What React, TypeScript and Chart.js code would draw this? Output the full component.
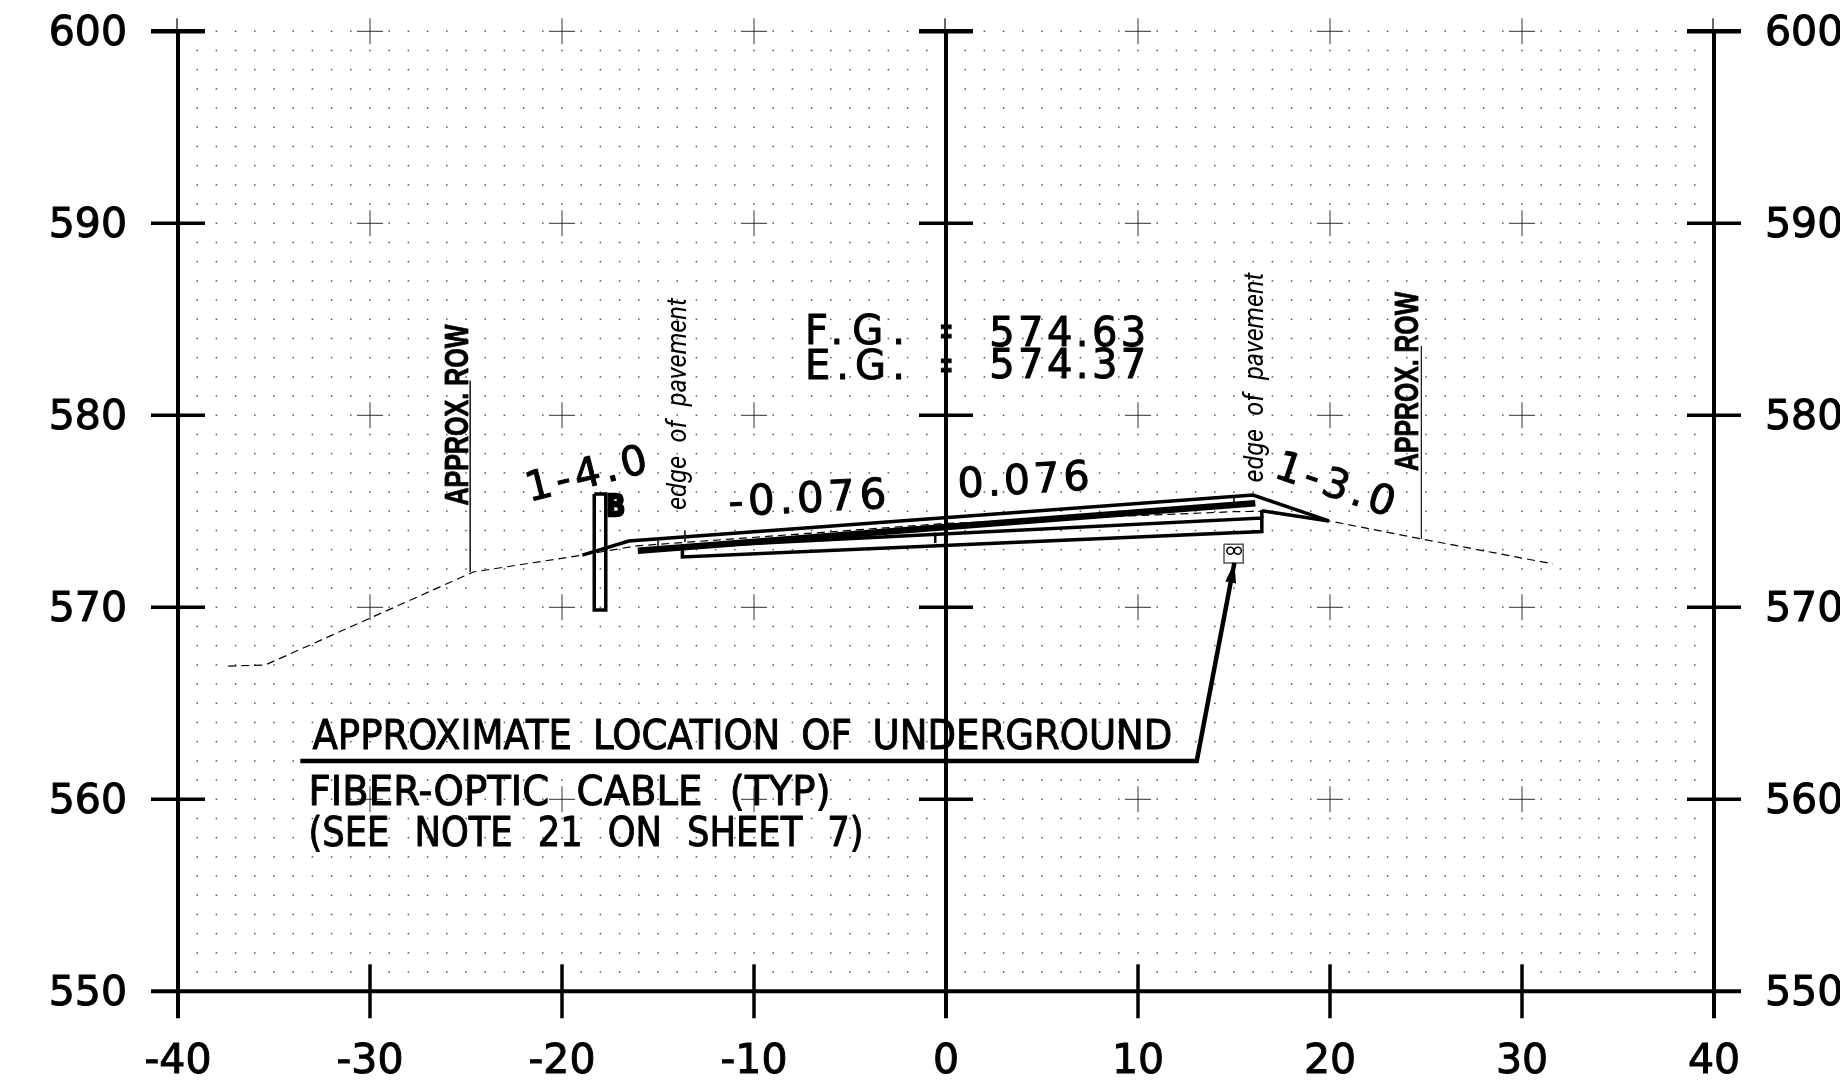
import React, { useEffect, useRef } from "react";
import { Chart, registerables } from "chart.js";

Chart.register(...registerables);

// Axis ticks
const xTicks = [-40, -30, -20, -10, 0, 10, 20, 30, 40];
const yTicks = [550, 560, 570, 580, 590, 600];

// Existing ground (dashed)
const groundX = [-37.38, -35.47, -24.62, -18.94, -16.1, 0, 15.0, 16.3, 19.94, 24.76, 31.61];
const groundY = [566.94, 566.99, 571.84, 572.72, 573.2, 574.37, 574.98, 575.0, 574.5, 573.56, 572.26];
// Finished grade top line
const gradeX = [-18.94, -16.52, 15.99, 19.94];
const gradeY = [572.72, 573.45, 575.85, 574.5];
// Heavy pavement layer
const layerX = [-16.05, 16.11];
const layerY = [572.95, 575.42];
// Lower shoulder line
const shoulderX = [16.45, 19.94];
const shoulderY = [575.03, 574.5];
// Base box
const baseX = [-13.73, -13.73, 16.45, 16.45, -13.73];
const baseY = [573.14, 572.62, 573.95, 574.65, 573.14];
const baseTopX = [16.45, 16.45];
const baseTopY = [574.65, 575.07];
// Small stubs
const stubAX = [-0.56, -0.56];
const stubAY = [573.9, 573.35];
const stubBX = [15.0, 15.0];
const stubBY = [575.8, 575.4];
const stubCX = [-13.6, -13.6];
const stubCY = [574.0, 573.4];
const stubDX = [-15.0, -15.0];
const stubDY = [573.5, 573.2];
// Sign post
const postX = [-18.32, -17.72, -17.72, -18.32, -18.32];
const postY = [575.9, 575.9, 569.86, 569.86, 575.9];
// Right-of-way leaders
const rowLeftX = [-24.78, -24.78];
const rowLeftY = [581.8, 571.84];
const rowRightX = [24.76, 24.76];
const rowRightY = [583.6, 573.56];
// Callout leader
const leaderX = [-33.63, 13.06, 15.02];
const leaderY = [562.0, 562.0, 572.31];
// Utility box
const boxX = [14.48, 15.48, 15.48, 14.48, 14.48];
const boxY = [573.28, 573.28, 572.31, 572.31, 573.28];
const cableX = [14.81, 15.2];
const cableY = [572.95, 572.95];

type Note = {
  text: string; x: number; y: number; w: number; rot: number; font: string; stroke: number; word?: number;
};
const DJ = '"DejaVu Sans"';
const notes: Note[] = [
  { text: "F.G.", x: -7.35, y: 583.71, w: 100, rot: 0, font: `40px ${DJ}`, stroke: 1 },
  { text: "=", x: -0.35, y: 583.6, w: 14, rot: 0, font: `46px ${DJ}`, stroke: 0.8 },
  { text: "574.63", x: 2.25, y: 583.6, w: 157, rot: 0, font: `40px ${DJ}`, stroke: 1 },
  { text: "E.G.", x: -7.35, y: 581.89, w: 100, rot: 0, font: `40px ${DJ}`, stroke: 1 },
  { text: "=", x: -0.35, y: 581.84, w: 14, rot: 0, font: `46px ${DJ}`, stroke: 0.8 },
  { text: "574.37", x: 2.25, y: 581.93, w: 157, rot: 0, font: `40px ${DJ}`, stroke: 1 },
  { text: "-0.076", x: -11.3, y: 574.75, w: 158, rot: -3, font: `42px ${DJ}`, stroke: 1 },
  { text: "0.076", x: 0.65, y: 575.72, w: 132, rot: -3.5, font: `41px ${DJ}`, stroke: 1 },
  { text: "1-4.0", x: -21.7, y: 575.5, w: 124, rot: -14, font: `41px ${DJ}`, stroke: 1 },
  { text: "1-3.0", x: 17.0, y: 576.8, w: 124, rot: 19, font: `41px ${DJ}`, stroke: 1 },
  { text: "APPROX. ROW", x: -24.9, y: 575.3, w: 181, rot: -90, font: `bold 33px "Liberation Sans"`, stroke: 0.8 },
  { text: "APPROX. ROW", x: 24.6, y: 577.1, w: 179, rot: -90, font: `bold 33px "Liberation Sans"`, stroke: 0.8 },
  { text: "edge of pavement", x: -13.55, y: 575.07, w: 212, rot: -90, font: `italic 28px Roboto`, stroke: 0, word: 8 },
  { text: "edge of pavement", x: 16.5, y: 576.5, w: 210, rot: -90, font: `italic 28px Roboto`, stroke: 0, word: 8 },
  { text: "APPROXIMATE LOCATION OF UNDERGROUND", x: -33.0, y: 562.62, w: 860, rot: 0, font: `41px ${DJ}`, stroke: 1, word: 10 },
  { text: "FIBER-OPTIC CABLE (TYP)", x: -33.2, y: 559.7, w: 522, rot: 0, font: `41px ${DJ}`, stroke: 1, word: 16 },
  { text: "(SEE NOTE 21 ON SHEET 7)", x: -33.2, y: 557.55, w: 555, rot: 0, font: `41px ${DJ}`, stroke: 1, word: 16 },
  { text: "B", x: -17.7, y: 574.73, w: 19, rot: 0, font: `bold 30px ${DJ}`, stroke: 2.5 },
];

const line = (xs: number[], ys: number[], width: number, extra: object = {}) => ({
  data: xs.map((x, i) => ({ x, y: ys[i] })),
  showLine: true,
  borderColor: "#000",
  borderWidth: width,
  pointRadius: 0,
  tension: 0,
  clip: false,
  borderJoinStyle: "miter",
  ...extra,
});

const sheet = {
  id: "sheet",
  beforeDatasetsDraw(chart: any) {
    const { ctx, scales } = chart;
    const sx = (v: number) => scales.x.getPixelForValue(v);
    const sy = (v: number) => scales.y.getPixelForValue(v);
    const seg = (a: number, b: number, c: number, d: number, w: number, col = "#000") => {
      ctx.strokeStyle = col;
      ctx.lineWidth = w;
      ctx.beginPath();
      ctx.moveTo(a, b);
      ctx.lineTo(c, d);
      ctx.stroke();
    };
    ctx.save();
    // one-foot dot grid
    ctx.fillStyle = "#555";
    for (let gx = -39; gx <= 39; gx++) {
      for (let gy = 551; gy <= 600; gy++) {
        ctx.fillRect(sx(gx) - 0.75, sy(gy) - 0.75, 1.5, 1.5);
      }
    }
    const arm = 13;
    const long = 27;
    for (const tx of xTicks) {
      const isAxis = tx === -40 || tx === 0 || tx === 40;
      for (const ty of yTicks) {
        const px = sx(tx);
        const py = sy(ty);
        if (isAxis) {
          if (ty === 600) seg(px - 1, py - arm, px - 1, py, 1.5, "#333");
          if (ty !== 550) seg(px - long, py, px + long, py, ty === 600 ? 4.5 : 3.5);
        } else if (ty === 550) {
          seg(px, py - long, px, py + long, 3.5);
        } else {
          seg(px - arm, py, px + arm, py, 1, "#333");
          seg(px, py - arm, px, py + arm, 1, "#333");
        }
      }
      if (isAxis) seg(sx(tx), sy(600), sx(tx), sy(550) + long, 4);
    }
    seg(sx(-40) - long, sy(550), sx(40) + long, sy(550), 4);
    ctx.restore();
  },
  afterDatasetsDraw(chart: any) {
    const { ctx, scales } = chart;
    const sx = (v: number) => scales.x.getPixelForValue(v);
    const sy = (v: number) => scales.y.getPixelForValue(v);
    ctx.save();
    ctx.fillStyle = "#000";
    ctx.strokeStyle = "#000";
    ctx.lineJoin = "round";
    ctx.textBaseline = "alphabetic";
    ctx.textAlign = "left";
    for (const n of notes) {
      ctx.save();
      ctx.font = n.font;
      ctx.wordSpacing = `${n.word || 0}px`;
      ctx.letterSpacing = "0px";
      const natural = ctx.measureText(n.text).width;
      ctx.translate(sx(n.x), sy(n.y));
      ctx.rotate((n.rot * Math.PI) / 180);
      if (natural < n.w) ctx.letterSpacing = `${(n.w - natural) / Math.max(1, n.text.length - 1)}px`;
      else ctx.scale(n.w / natural, 1);
      ctx.fillText(n.text, 0, 0);
      if (n.stroke) {
        ctx.lineWidth = n.stroke;
        ctx.strokeText(n.text, 0, 0);
      }
      ctx.restore();
    }
    // arrow head on the callout leader
    const n = leaderX.length - 1;
    const tx = sx(leaderX[n]);
    const ty = sy(leaderY[n]);
    const ang = Math.atan2(sy(leaderY[n - 1]) - ty, sx(leaderX[n - 1]) - tx);
    ctx.translate(tx, ty);
    ctx.rotate(ang);
    ctx.beginPath();
    ctx.moveTo(0, 0);
    ctx.lineTo(20, -5.5);
    ctx.lineTo(20, 5.5);
    ctx.closePath();
    ctx.fill();
    ctx.restore();
  },
};

const tickFont = { family: "DejaVu Sans", size: 41 };

export default function App() {
  const ref = useRef<HTMLCanvasElement>(null);
  useEffect(() => {
    const noPad = (s: any) => {
      s.paddingTop = 0;
      s.paddingBottom = 0;
      s.paddingLeft = 0;
      s.paddingRight = 0;
    };
    const chart = new Chart(ref.current as HTMLCanvasElement, {
      type: "scatter",
      data: {
        datasets: [
          line(rowLeftX, rowLeftY, 1, { borderColor: "#222" }),
          line(rowRightX, rowRightY, 1, { borderColor: "#222" }),
          line(stubCX, stubCY, 1, { borderColor: "#222" }),
          line(stubDX, stubDY, 1, { borderColor: "#222" }),
          line(groundX, groundY, 1.2, { borderDash: [8, 5] }),
          line(gradeX, gradeY, 3.5),
          line(layerX, layerY, 6.5),
          line(shoulderX, shoulderY, 3.5),
          line(baseX, baseY, 3.5),
          line(baseTopX, baseTopY, 3.5),
          line(stubAX, stubAY, 2.5),
          line(stubBX, stubBY, 1.5),
          line(postX, postY, 3.5),
          line(leaderX, leaderY, 4.5),
          line(boxX, boxY, 1.5, { borderColor: "#555" }),
          {
            data: cableX.map((x, i) => ({ x, y: cableY[i] })),
            pointRadius: 3.5,
            pointBorderWidth: 1.5,
            pointBorderColor: "#000",
            pointBackgroundColor: "#fff",
            clip: false,
          },
        ] as any,
      },
      options: {
        responsive: false,
        animation: false,
        devicePixelRatio: 1,
        layout: { padding: { top: 31.3, right: 0, left: 0, bottom: 0 } },
        plugins: { legend: { display: false }, tooltip: { enabled: false } },
        scales: {
          x: {
            type: "linear",
            position: "bottom",
            min: -40,
            max: 40,
            afterBuildTicks: (s: any) => { s.ticks = xTicks.map((value) => ({ value })); },
            afterFit: (s: any) => { s.height = 97.7; noPad(s); },
            grid: { display: false, drawTicks: false },
            border: { display: false },
            ticks: { color: "#000", font: tickFont, padding: 46, autoSkip: false, maxRotation: 0, textStrokeWidth: 1, textStrokeColor: "#000" },
          },
          y: {
            type: "linear",
            position: "left",
            min: 550,
            max: 600,
            afterBuildTicks: (s: any) => { s.ticks = yTicks.map((value) => ({ value })); },
            afterFit: (s: any) => { s.width = 178; noPad(s); },
            grid: { display: false, drawTicks: false },
            border: { display: false },
            ticks: { color: "#000", font: tickFont, padding: 51, labelOffset: 3, autoSkip: false, textStrokeWidth: 1, textStrokeColor: "#000" },
          },
          y2: {
            type: "linear",
            position: "right",
            min: 550,
            max: 600,
            afterBuildTicks: (s: any) => { s.ticks = yTicks.map((value) => ({ value })); },
            afterFit: (s: any) => { s.width = 126; noPad(s); },
            grid: { display: false, drawTicks: false },
            border: { display: false },
            ticks: { color: "#000", font: tickFont, padding: 51, labelOffset: 3, autoSkip: false, textStrokeWidth: 1, textStrokeColor: "#000" },
          },
        },
      } as any,
      plugins: [sheet],
    });
    return () => chart.destroy();
  }, []);
  return (
    <canvas
      ref={ref}
      width={1840}
      height={1089}
      style={{ position: "absolute", left: 0, top: 0, display: "block", background: "#fff" }}
    />
  );
}
